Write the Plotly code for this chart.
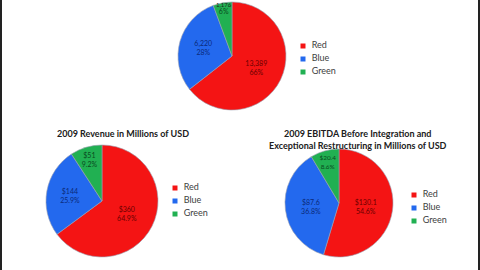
import plotly.graph_objects as go

labels = ["Red", "Blue", "Green"]
colors = ["#f41414", "#2369ee", "#21b052"]
text_colors = ["#6a0000", "#0b2a7a", "#0a4a1e"]

top_values = [13389, 6220, 1176]
top_text = ["13,389<br>66%", "6,220<br>28%", "6%"]

rev_values = [360, 144, 51]
rev_text = ["$360<br>64.9%", "$144<br>25.9%", "$51<br>9.2%"]

ebitda_values = [130.1, 87.6, 20.4]
ebitda_text = ["$130.1<br>54.6%", "$87.6<br>36.8%", "$20.4<br>8.6%"]

rev_title = "2009 Revenue in Millions of USD"
ebitda_title = "2009 EBITDA Before Integration and<br>Exceptional Restructuring in Millions of USD"

W, H = 480, 270

def dom(cx, cy, r):
    return dict(x=[(cx - r) / W, (cx + r) / W], y=[1 - (cy + r) / H, 1 - (cy - r) / H])

def pie(values, text, d):
    return go.Pie(
        labels=labels, values=values, text=text, textinfo="text",
        textposition="inside", insidetextorientation="horizontal",
        sort=False, direction="clockwise", rotation=0,
        marker=dict(colors=colors, line=dict(color="#9aa0b0", width=0.6)),
        textfont=dict(family="Lato", size=7, color=text_colors),
        domain=d, showlegend=False, hoverinfo="skip",
    )

fig = go.Figure()
fig.add_trace(pie(top_values, top_text, dom(232, 56, 54)))
fig.add_trace(pie(rev_values, rev_text, dom(102, 201, 56)))
fig.add_trace(pie(ebitda_values, ebitda_text, dom(339, 203, 54)))

# legends drawn on a hidden pixel-space overlay axis
STEP = 13
def legend(x, y0):
    fig.add_trace(go.Scatter(
        x=[x] * len(labels), y=[y0 + i * STEP for i in range(len(labels))],
        mode="markers+text", text=["  " + l for l in labels], textposition="middle right",
        marker=dict(symbol="square", size=5, color=colors, line=dict(width=0)),
        textfont=dict(family="Lato", size=9, color="#404040"),
        showlegend=False, hoverinfo="skip", cliponaxis=False,
    ))

legend(303, 46)
legend(175, 188)
legend(414, 195)

fig.update_layout(
    width=W, height=H, margin=dict(l=0, r=0, t=0, b=0),
    paper_bgcolor="white", plot_bgcolor="rgba(0,0,0,0)",
    xaxis=dict(range=[0, W], visible=False, fixedrange=True),
    yaxis=dict(range=[H, 0], visible=False, fixedrange=True),
    annotations=[
        dict(text=f"{top_values[2]:,}", x=224 / W, y=1, xref="paper", yref="paper",
             showarrow=False, font=dict(family="Lato", size=6, color="#202020"),
             xanchor="center", yanchor="top", borderpad=0),
        dict(text="<b>" + rev_title + "</b>", x=123 / W, y=1 - 133 / H, xref="paper", yref="paper",
             showarrow=False, font=dict(family="Lato", size=9, color="#202020"),
             xanchor="center", yanchor="middle"),
        dict(text="<b>" + ebitda_title + "</b>", x=358 / W, y=1 - 139 / H, xref="paper", yref="paper",
             showarrow=False, font=dict(family="Lato", size=9, color="#202020"),
             xanchor="center", yanchor="middle"),
    ],
    shapes=[
        dict(type="rect", xref="paper", yref="paper", x0=0, x1=2 / W, y0=0, y1=1,
             fillcolor="#222", line=dict(width=0), layer="above"),
        dict(type="rect", xref="paper", yref="paper", x0=1 - 2 / W, x1=1, y0=0, y1=1,
             fillcolor="#222", line=dict(width=0), layer="above"),
    ],
)

fig.write_html("out.html")
